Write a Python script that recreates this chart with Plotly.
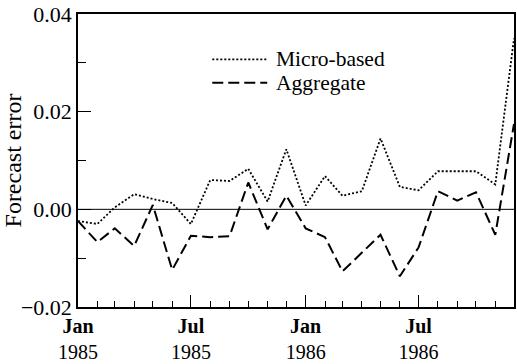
import plotly.graph_objects as go

# Monthly forecast errors, Jan 1985 - Dec 1986
months = [f"{y}-{m:02d}-01" for y in (1985, 1986) for m in range(1, 13)]
micro_based = [-0.0024, -0.0030, 0.0004, 0.0031, 0.0021, 0.0013, -0.0030, 0.0060,
               0.0058, 0.0083, 0.0016, 0.0123, 0.0008, 0.0068, 0.0028, 0.0037,
               0.0145, 0.0046, 0.0039, 0.0078, 0.0078, 0.0078, 0.0051, 0.0350]
aggregate = [-0.0024, -0.0067, -0.0039, -0.0075, 0.0009, -0.0124, -0.0054, -0.0057,
             -0.0055, 0.0055, -0.0041, 0.0028, -0.0039, -0.0057, -0.0127, -0.0089,
             -0.0052, -0.0137, -0.0078, 0.0037, 0.0018, 0.0035, -0.0052, 0.0175]
series_names = ["Micro-based", "Aggregate"]

x_tickvals = ["1985-01-01", "1985-07-01", "1986-01-01", "1986-07-01"]
x_ticktext = ["<b>Jan</b><br>1985", "<b>Jul</b><br>1985",
              "<b>Jan</b><br>1986", "<b>Jul</b><br>1986"]
y_tickvals = [0.04, 0.02, 0.0, -0.02]
y_ticktext = ["0.04", "0.02", "0.00", "\u22120.02"]

FONT = "Liberation Serif"
dot_style = dict(color="black", width=1.8, dash="2px,2px")
dash_style = dict(color="black", width=2, dash="11px,5px")

fig = go.Figure()
fig.add_trace(go.Scatter(x=months, y=micro_based, mode="lines",
                         name=series_names[0], line=dot_style))
fig.add_trace(go.Scatter(x=months, y=aggregate, mode="lines",
                         name=series_names[1], line=dash_style))

# zero reference line
fig.add_hline(y=0, line=dict(color="black", width=1))

# legend drawn as sample strokes + labels
legend_rows = [(0.845, dot_style, series_names[0]), (0.765, dash_style, series_names[1])]
for ypos, style, label in legend_rows:
    fig.add_shape(type="line", xref="paper", yref="paper",
                  x0=0.308, x1=0.434, y0=ypos, y1=ypos, line=style)
    fig.add_annotation(xref="paper", yref="paper", x=0.452, y=ypos,
                       text=label, showarrow=False, xanchor="left", yanchor="middle",
                       borderpad=0,
                       font=dict(family=FONT, size=21.5, color="black"))

fig.update_layout(
    width=517, height=364,
    margin=dict(l=78, r=1, t=14, b=49),
    paper_bgcolor="white", plot_bgcolor="white",
    showlegend=False,
    font=dict(family=FONT, color="black", size=20),
)
fig.update_xaxes(
    range=["1985-01-01", "1986-12-01"],
    tickvals=x_tickvals, ticktext=x_ticktext,
    ticks="inside", ticklen=12, tickwidth=1.2, tickcolor="black",
    minor=dict(dtick="M1", tick0="1985-01-01", ticks="inside", ticklen=6,
               tickwidth=1.2, tickcolor="black"),
    showline=True, linecolor="black", linewidth=1.5, mirror=True,
    showgrid=False, zeroline=False,
    tickfont=dict(family=FONT, size=20, color="black"),
)
fig.update_yaxes(
    range=[-0.02, 0.04],
    tickvals=y_tickvals, ticktext=y_ticktext,
    ticks="inside", ticklen=13, tickwidth=1.2, tickcolor="black",
    minor=dict(dtick=0.01, tick0=0, ticks="inside", ticklen=8,
               tickwidth=1.2, tickcolor="black"),
    showline=True, linecolor="black", linewidth=1.5, mirror=True,
    showgrid=False, zeroline=False,
    tickfont=dict(family=FONT, size=22, color="black"),
    title=dict(text="Forecast error", font=dict(family=FONT, size=24, color="black"),
               standoff=0),
)

fig.write_html("out.html")
